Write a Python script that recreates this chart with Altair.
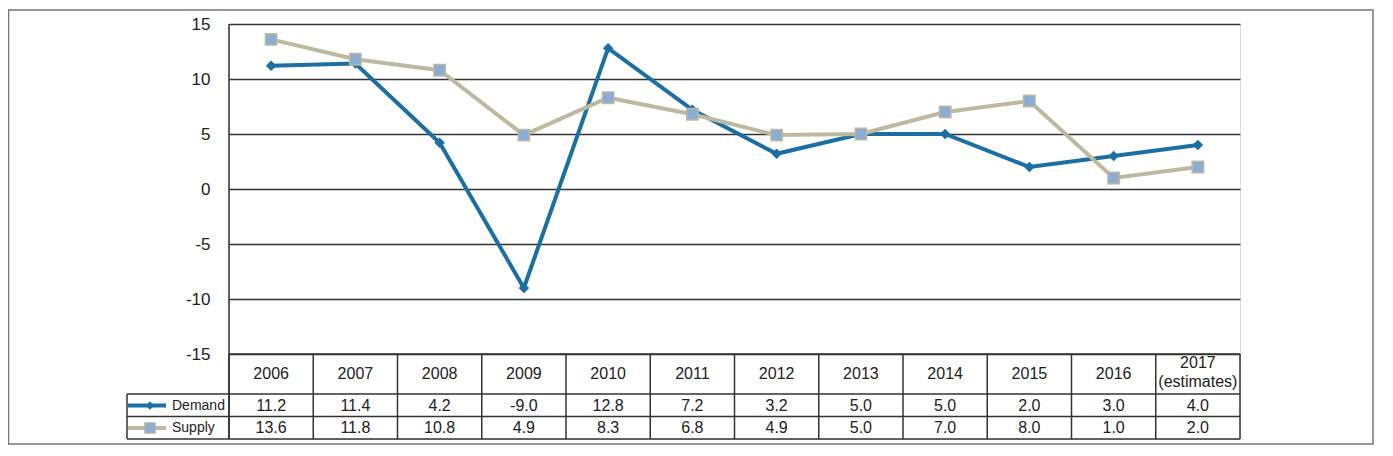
import altair as alt
import pandas as pd

years = ["2006", "2007", "2008", "2009", "2010", "2011", "2012", "2013", "2014", "2015", "2016", "2017"]
year_labels = ["2006", "2007", "2008", "2009", "2010", "2011", "2012", "2013", "2014", "2015", "2016", "2017\n(estimates)"]
demand = [11.2, 11.4, 4.2, -9.0, 12.8, 7.2, 3.2, 5.0, 5.0, 2.0, 3.0, 4.0]
supply = [13.6, 11.8, 10.8, 4.9, 8.3, 6.8, 4.9, 5.0, 7.0, 8.0, 1.0, 2.0]
series_names = ["Demand", "Supply"]
y_ticks = [-15, -10, -5, 0, 5, 10, 15]

BLUE = "#1b6fa4"
KHAKI = "#bdb99f"
SQUARE = "#8badd3"
LINE = "#333333"
FONT = "Liberation Sans"

W, H = 1011, 415
PLOT_H = 330

rows = []
for i, y in enumerate(years):
    rows.append({"year": y, "series": "Demand", "value": demand[i], "label": f"{demand[i]:.1f}"})
    rows.append({"year": y, "series": "Supply", "value": supply[i], "label": f"{supply[i]:.1f}"})
df = pd.DataFrame(rows)
hdr = pd.DataFrame({"year": years, "hlabel": year_labels,
                    "multi": ["\n" in s for s in year_labels]})
one = pd.DataFrame({"k": [0]})

xs = alt.Scale(type="band", domain=years, paddingInner=0, paddingOuter=0)
ys = alt.Scale(domain=[-15, 15], range=[PLOT_H, 0], nice=False, zero=False)
cs = alt.Scale(domain=series_names, range=[BLUE, KHAKI])

base = alt.Chart(df)

frame = alt.Chart(one).mark_rect(fill="white", fillOpacity=0, stroke="#777777", strokeWidth=1.5).encode(
    x=alt.value(-220.5), x2=alt.value(1144), y=alt.value(-14), y2=alt.value(420)
)

axis_layer = base.mark_line(opacity=0).encode(
    x=alt.X("year:N", scale=xs, axis=None),
    y=alt.Y("value:Q", scale=ys, axis=alt.Axis(
        values=y_ticks, grid=True, gridColor=LINE, gridWidth=1.3, domain=False, ticks=False,
        labelPadding=19, labelFont=FONT, labelFontSize=17, labelColor="#222222", title=None,
        labelExpr="datum.value + ''",
    )),
)

lines = base.mark_line(strokeWidth=4).encode(
    x=alt.X("year:N", scale=xs),
    y=alt.Y("value:Q", scale=ys),
    color=alt.Color("series:N", scale=cs, legend=None),
)

pts_d = base.transform_filter(alt.datum.series == "Demand").mark_point(
    shape="diamond", filled=True, color=BLUE, size=110, opacity=1
).encode(x=alt.X("year:N", scale=xs), y=alt.Y("value:Q", scale=ys))

pts_s = base.transform_filter(alt.datum.series == "Supply").mark_square(
    fill=SQUARE, stroke=KHAKI, strokeWidth=1.5, size=130, opacity=1
).encode(x=alt.X("year:N", scale=xs), y=alt.Y("value:Q", scale=ys))

# table lines
vlines = alt.Chart(hdr).mark_rule(color=LINE, strokeWidth=1.5).encode(
    x=alt.X("year:N", scale=xs, bandPosition=0), y=alt.value(PLOT_H), y2=alt.value(H)
)
right_edge = alt.Chart(one).mark_rule(color=LINE, strokeWidth=1.5).encode(
    x=alt.value(W), y=alt.value(PLOT_H), y2=alt.value(H)
)
left_axis = alt.Chart(one).mark_rule(color=LINE, strokeWidth=1.5).encode(
    x=alt.value(0), y=alt.value(0), y2=alt.value(H)
)
left_col = alt.Chart(one).mark_rule(color=LINE, strokeWidth=1.5).encode(
    x=alt.value(-102), y=alt.value(370), y2=alt.value(H)
)
hl_bottom = alt.Chart(one).mark_rule(color=LINE, strokeWidth=1.5).encode(
    x=alt.value(0), x2=alt.value(W), y=alt.value(PLOT_H)
)
hl_rows = [
    alt.Chart(one).mark_rule(color=LINE, strokeWidth=1.5).encode(
        x=alt.value(-102), x2=alt.value(W), y=alt.value(yy)
    )
    for yy in (370, 392.5, H)
]

hdr_single = alt.Chart(hdr).transform_filter("!datum.multi").mark_text(
    font=FONT, fontSize=16, color="#222222", baseline="middle"
).encode(x=alt.X("year:N", scale=xs), y=alt.value(350), text="hlabel:N")

hdr_multi = alt.Chart(hdr).transform_filter("datum.multi").mark_text(
    font=FONT, fontSize=16, color="#222222", baseline="middle", lineBreak="\n", lineHeight=19
).encode(x=alt.X("year:N", scale=xs), y=alt.value(339), text="hlabel:N")

d_text = base.transform_filter(alt.datum.series == "Demand").mark_text(
    font=FONT, fontSize=16, color="#222222", baseline="middle"
).encode(x=alt.X("year:N", scale=xs), y=alt.value(381.5), text="label:N")
s_text = base.transform_filter(alt.datum.series == "Supply").mark_text(
    font=FONT, fontSize=16, color="#222222", baseline="middle"
).encode(x=alt.X("year:N", scale=xs), y=alt.value(404), text="label:N")

leg = pd.DataFrame({"series": series_names})
leg_d = alt.Chart(leg).transform_filter(alt.datum.series == "Demand")
leg_s = alt.Chart(leg).transform_filter(alt.datum.series == "Supply")
leg_d_line = leg_d.mark_rule(color=BLUE, strokeWidth=4).encode(x=alt.value(-101), x2=alt.value(-63), y=alt.value(381.5))
leg_d_pt = leg_d.mark_point(shape="diamond", filled=True, color=BLUE, size=70, opacity=1).encode(x=alt.value(-79), y=alt.value(381.5))
leg_d_txt = leg_d.mark_text(font=FONT, fontSize=14, color="#222222", align="left", baseline="middle").encode(
    x=alt.value(-57), y=alt.value(381.5), text="series:N")
leg_s_line = leg_s.mark_rule(color=KHAKI, strokeWidth=4).encode(x=alt.value(-101), x2=alt.value(-63), y=alt.value(404))
leg_s_pt = leg_s.mark_square(fill=SQUARE, stroke=KHAKI, strokeWidth=1, size=110, opacity=1).encode(x=alt.value(-79), y=alt.value(404))
leg_s_txt = leg_s.mark_text(font=FONT, fontSize=14, color="#222222", align="left", baseline="middle").encode(
    x=alt.value(-57), y=alt.value(404), text="series:N")

chart = alt.layer(
    frame, axis_layer, hl_bottom, *hl_rows, vlines, right_edge, left_axis, left_col,
    lines, pts_d, pts_s, hdr_single, hdr_multi, d_text, s_text,
    leg_d_line, leg_d_pt, leg_d_txt, leg_s_line, leg_s_pt, leg_s_txt,
).properties(
    width=W, height=H,
    autosize=alt.AutoSizeParams(type="none"),
    padding={"left": 221, "top": 16, "right": 135, "bottom": 8},
).configure_view(stroke=None).configure(background="white")

chart.save("out.html", embed_options={"renderer": "svg", "actions": False})
